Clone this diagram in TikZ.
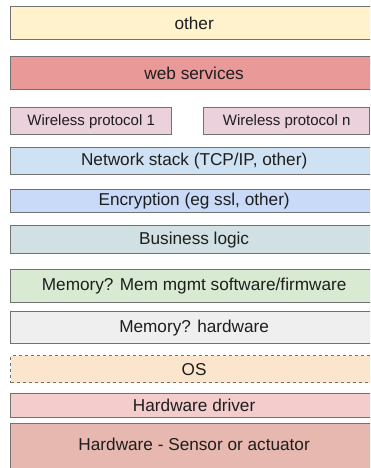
\documentclass[tikz,border=0pt]{standalone}
\usepackage{fontspec}
\setmainfont{Liberation Sans}
\definecolor{cOther}{HTML}{FFF2CC}
\definecolor{cWeb}{HTML}{EA9999}
\definecolor{cWire}{HTML}{EAD1DC}
\definecolor{cNet}{HTML}{CFE2F3}
\definecolor{cEnc}{HTML}{C9DAF8}
\definecolor{cBiz}{HTML}{D0E0E3}
\definecolor{cMemSw}{HTML}{D9EAD3}
\definecolor{cMemHw}{HTML}{EFEFEF}
\definecolor{cOS}{HTML}{FCE5CD}
\definecolor{cDrv}{HTML}{F4CCCC}
\definecolor{cHw}{HTML}{E6B8AF}
\definecolor{cLine}{HTML}{727272}
\definecolor{cText}{HTML}{1E1E1E}
\tikzset{
  layer/.style={draw=cLine, line width=1.3pt, rectangle, anchor=north west,
    inner sep=0pt, minimum width=367pt, text=cText,
    font=\fontsize{17.2}{20}\selectfont},
  wire/.style={layer, minimum width=161pt, font=\fontsize{15}{18}\selectfont}
}
\begin{document}
\begin{tikzpicture}[x=1pt,y=-1pt]
\useasboundingbox (0,0) rectangle (370,468);
\clip (0,0) rectangle (370,468);
\fill[white] (0,0) rectangle (370,468);
\node[layer, fill=cOther, minimum height=33pt] (other) at (10,6) {other};
\node[layer, fill=cWeb, minimum height=33pt] (web) at (10,56) {web services};
\node[wire, fill=cWire, minimum height=27pt] (w1) at (10,107) {Wireless protocol 1};
\node[wire, fill=cWire, minimum height=27pt, minimum width=166pt] (wn) at (203,107) {Wireless protocol n};
\node[layer, fill=cNet, minimum height=27pt] (net) at (10,147) {Network stack (TCP/IP, other)};
\node[layer, fill=cEnc, minimum height=23pt] (enc) at (10,189) {Encryption (eg ssl, other)};
\node[layer, fill=cBiz, minimum height=28pt] (biz) at (10,225) {Business logic};
\node[layer, fill=cMemSw, minimum height=33pt] (memsw) at (10,269) {Memory? Mem mgmt software/firmware};
\node[layer, fill=cMemHw, minimum height=32pt] (memhw) at (10,311) {Memory? hardware};
\node[layer, fill=cOS, dashed, minimum height=27pt] (os) at (10,355) {OS};
\node[layer, fill=cDrv, minimum height=24pt] (drv) at (10,393) {Hardware driver};
\node[layer, fill=cHw, minimum height=50pt, text depth=8pt] (hw) at (10,423) {Hardware - Sensor or actuator};
\end{tikzpicture}
\end{document}
